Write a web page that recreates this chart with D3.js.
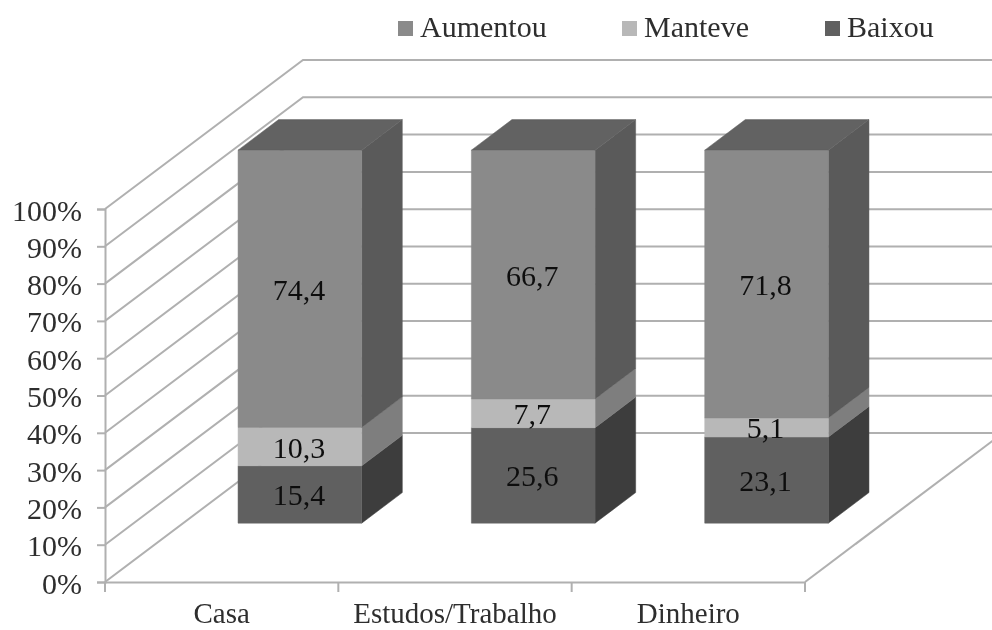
<!DOCTYPE html>
<html><head><meta charset="utf-8">
<script src="https://cdn.jsdelivr.net/npm/d3@7/dist/d3.min.js"></script>
<style>html,body{margin:0;padding:0;background:#fff;overflow:hidden}svg{display:block}text{font-family:"Liberation Serif",serif}</style>
</head><body><svg id="c" width="992" height="630"></svg>
<script>
const categories = ["Casa", "Estudos/Trabalho", "Dinheiro"];
const seriesNames = ["Baixou", "Manteve", "Aumentou"];
const legendOrder = ["Aumentou", "Manteve", "Baixou"];
const baixou = [15.4, 25.6, 23.1];
const manteve = [10.3, 7.7, 5.1];
const aumentou = [74.4, 66.7, 71.8];
const yTicks = [0, 10, 20, 30, 40, 50, 60, 70, 80, 90, 100];
const frontColor = {Baixou:"#616161", Manteve:"#b8b8b8", Aumentou:"#8a8a8a"};
const sideColor  = {Baixou:"#3d3d3d", Manteve:"#7e7e7e", Aumentou:"#5a5a5a"};
const topColor = "#626262";

const rows = categories.map((c,i)=>({cat:c, Baixou:baixou[i], Manteve:manteve[i], Aumentou:aumentou[i]}));
const stacked = d3.stack().keys(seriesNames).offset(d3.stackOffsetExpand)(rows);

const W = 992, H = 630;
const svg = d3.select("#c");
const defs = svg.append("defs");
defs.append("filter").attr("id","soft")
  .attr("filterUnits","userSpaceOnUse").attr("x",0).attr("y",0).attr("width",W).attr("height",H)
  .append("feGaussianBlur").attr("stdDeviation",0.75);
const root = svg.append("g").attr("filter","url(#soft)");

const x = d3.scaleBand().domain(categories).range([105,805]).paddingInner(0.47).paddingOuter(0.235);
const y = d3.scaleLinear().domain([0,1]).range([582,209]);
const dX = d3.scaleLinear().domain([0,1]).range([0,198]);   // oblique depth
const dY = d3.scaleLinear().domain([0,1]).range([0,-149]);
const depthFront = 0.395, depthBack = 0.6;
const pt = (xv,v,t)=>[xv+dX(t), y(v)+dY(t)];
const line = d3.line();
const gridC = "#b0b0b0";

// walls & gridlines
const grid = root.append("g");
yTicks.forEach(v=>{
  const a = pt(x.range()[0],v/100,0), b = pt(x.range()[0],v/100,1), c = [W+10,b[1]];
  grid.append("path").attr("d",line([a,b,c])).attr("fill","none").attr("stroke",gridC).attr("stroke-width",2);
});
// floor
const floorEnd = x.range()[1];
grid.append("path").attr("d",line([pt(floorEnd,0,0),pt(floorEnd,0,1)])).attr("fill","none").attr("stroke",gridC).attr("stroke-width",2);

// axes
const axY = root.append("g").attr("transform",`translate(${x.range()[0]},0)`)
  .call(d3.axisLeft(d3.scaleLinear().domain([0,100]).range(y.range())).tickValues(yTicks).tickFormat(d=>d+"%").tickSize(8).tickPadding(0));
axY.selectAll("path,line").attr("stroke",gridC).attr("stroke-width",2);
axY.selectAll("text").attr("x",-23).attr("dy",null).attr("y",11).attr("text-anchor","end")
  .attr("font-size",30).attr("fill","#2e2e2e");
const axX = root.append("g").attr("transform",`translate(0,${y(0)})`)
  .call(d3.axisBottom(x).tickSize(0).tickPadding(0));
axX.select("path").attr("stroke",gridC).attr("stroke-width",2);
axX.selectAll("text").attr("dy",null).attr("y",41).attr("text-anchor","middle")
  .attr("font-size",29).attr("fill","#2e2e2e");
const step = x.step();
d3.range(categories.length+1).forEach(i=>{
  const tx = x.range()[0]+i*step;
  root.append("line").attr("x1",tx).attr("x2",tx).attr("y1",y(0)).attr("y2",y(0)+10).attr("stroke",gridC).attr("stroke-width",2);
});

// bars
const bars = root.append("g");
categories.forEach((c,ci)=>{
  const x0 = x(c), x1 = x0+x.bandwidth();
  const poly = (pts,fill)=>bars.append("path").attr("d",line(pts)+"Z").attr("fill",fill).attr("stroke",fill).attr("stroke-width",0.5);
  stacked.forEach(s=>{
    const [a,b] = s[ci];
    poly([pt(x1,a,depthFront),pt(x1,a,depthBack),pt(x1,b,depthBack),pt(x1,b,depthFront)], sideColor[s.key]);
    poly([pt(x0,a,depthFront),pt(x1,a,depthFront),pt(x1,b,depthFront),pt(x0,b,depthFront)], frontColor[s.key]);
  });
  poly([pt(x0,1,depthFront),pt(x1,1,depthFront),pt(x1,1,depthBack),pt(x0,1,depthBack)], topColor);
  stacked.forEach(s=>{
    const [a,b] = s[ci];
    const p = pt((x0+x1)/2,(a+b)/2,depthFront);
    bars.append("text").text(String(rows[ci][s.key]).replace(".",","))
      .attr("text-anchor","middle").attr("font-size",30).attr("fill","#111")
      .attr("x",p[0]-1).attr("y",p[1]+11);
  });
});

// legend
const legendOffsets = {Aumentou:398, Manteve:622, Baixou:825};
const lg = root.append("g");
legendOrder.forEach(n=>{
  const lx = legendOffsets[n];
  lg.append("rect").attr("x",lx).attr("y",21).attr("width",15).attr("height",15).attr("fill",frontColor[n]);
  lg.append("text").text(n).attr("font-size",30).attr("fill","#2e2e2e")
    .attr("x",lx+22).attr("y",37);
});
</script></body></html>
